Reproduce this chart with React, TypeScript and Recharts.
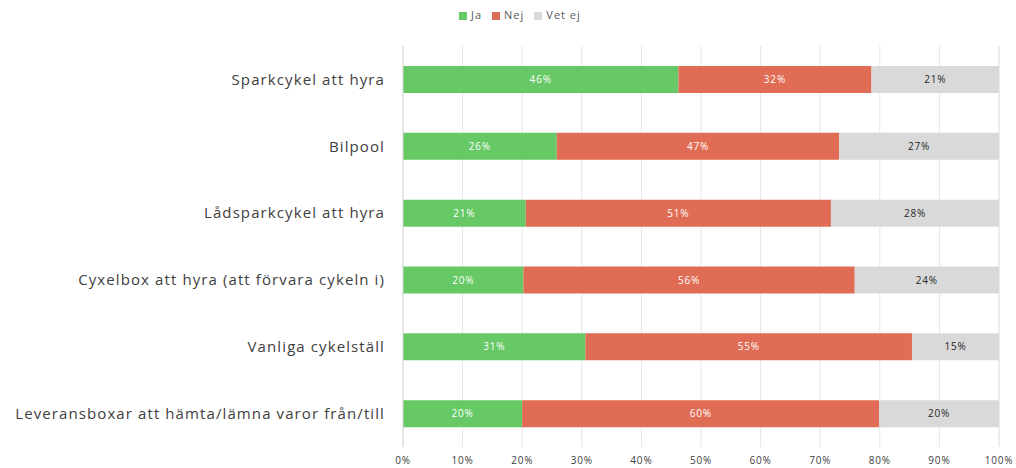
import { BarChart, Bar, XAxis, YAxis, CartesianGrid, Legend, LabelList } from "recharts";

const categories = [
  "Sparkcykel att hyra",
  "Bilpool",
  "Lådsparkcykel att hyra",
  "Cyxelbox att hyra (att förvara cykeln i)",
  "Vanliga cykelställ",
  "Leveransboxar att hämta/lämna varor från/till",
];
const ja = [46.2, 25.8, 20.6, 20.2, 30.6, 20.0];
const nej = [32.4, 47.4, 51.2, 55.6, 54.8, 59.9];
const vetEj = [21.4, 26.8, 28.2, 24.2, 14.6, 20.1];
const xTicks = [0, 10, 20, 30, 40, 50, 60, 70, 80, 90, 100];

const data = categories.map((name, i) => ({ name, ja: ja[i], nej: nej[i], vetEj: vetEj[i] }));

const FONT = "'Open Sans', sans-serif";
const pct = (v: number) => `${Math.round(v)}%`;

export default function App() {
  return (
    <div style={{ position: "absolute", left: 0, top: 0, background: "#fff", fontFamily: FONT }}>
      <BarChart
        width={1016}
        height={468}
        data={data}
        layout="vertical"
        margin={{ top: 31, right: 17, left: 0, bottom: 0 }}
        barSize={27}
      >
        <CartesianGrid horizontal={false} stroke="#e6e6e6" />
        <XAxis
          type="number"
          domain={[0, 100]}
          ticks={xTicks}
          tickFormatter={(v) => `${v}%`}
          axisLine={false}
          tickLine={false}
          tickSize={0}
          tickMargin={10}
          height={21}
          tick={{ fontSize: 10, fill: "#404040", fontFamily: FONT, letterSpacing: 0.8 }}
          interval={0}
        />
        <YAxis
          type="category"
          dataKey="name"
          width={403}
          axisLine={{ stroke: "#d9d9d9" }}
          tickLine={false}
          tickMargin={12}
          tick={{ fontSize: 15, fill: "#404040", fontFamily: FONT, letterSpacing: 1.1 }}
        />
        <Legend
          verticalAlign="top"
          iconType="square"
          iconSize={8}
          formatter={(v) => <span style={{ color: "#595959", letterSpacing: 1 }}>{v}</span>}
          wrapperStyle={{ top: 7, left: 459, width: "auto", fontSize: 11, fontFamily: FONT }}
        />
        <Bar dataKey="ja" name="Ja" stackId="a" fill="#66c966" isAnimationActive={false}>
          <LabelList dataKey="ja" position="center" formatter={pct} fill="#ffffff" fontSize={10} letterSpacing={0.8} />
        </Bar>
        <Bar dataKey="nej" name="Nej" stackId="a" fill="#e06c55" isAnimationActive={false}>
          <LabelList dataKey="nej" position="center" formatter={pct} fill="#ffffff" fontSize={10} letterSpacing={0.8} />
        </Bar>
        <Bar dataKey="vetEj" name="Vet ej" stackId="a" fill="#d9d9d9" isAnimationActive={false}>
          <LabelList dataKey="vetEj" position="center" formatter={pct} fill="#262626" fontSize={10} letterSpacing={0.8} />
        </Bar>
      </BarChart>
    </div>
  );
}
